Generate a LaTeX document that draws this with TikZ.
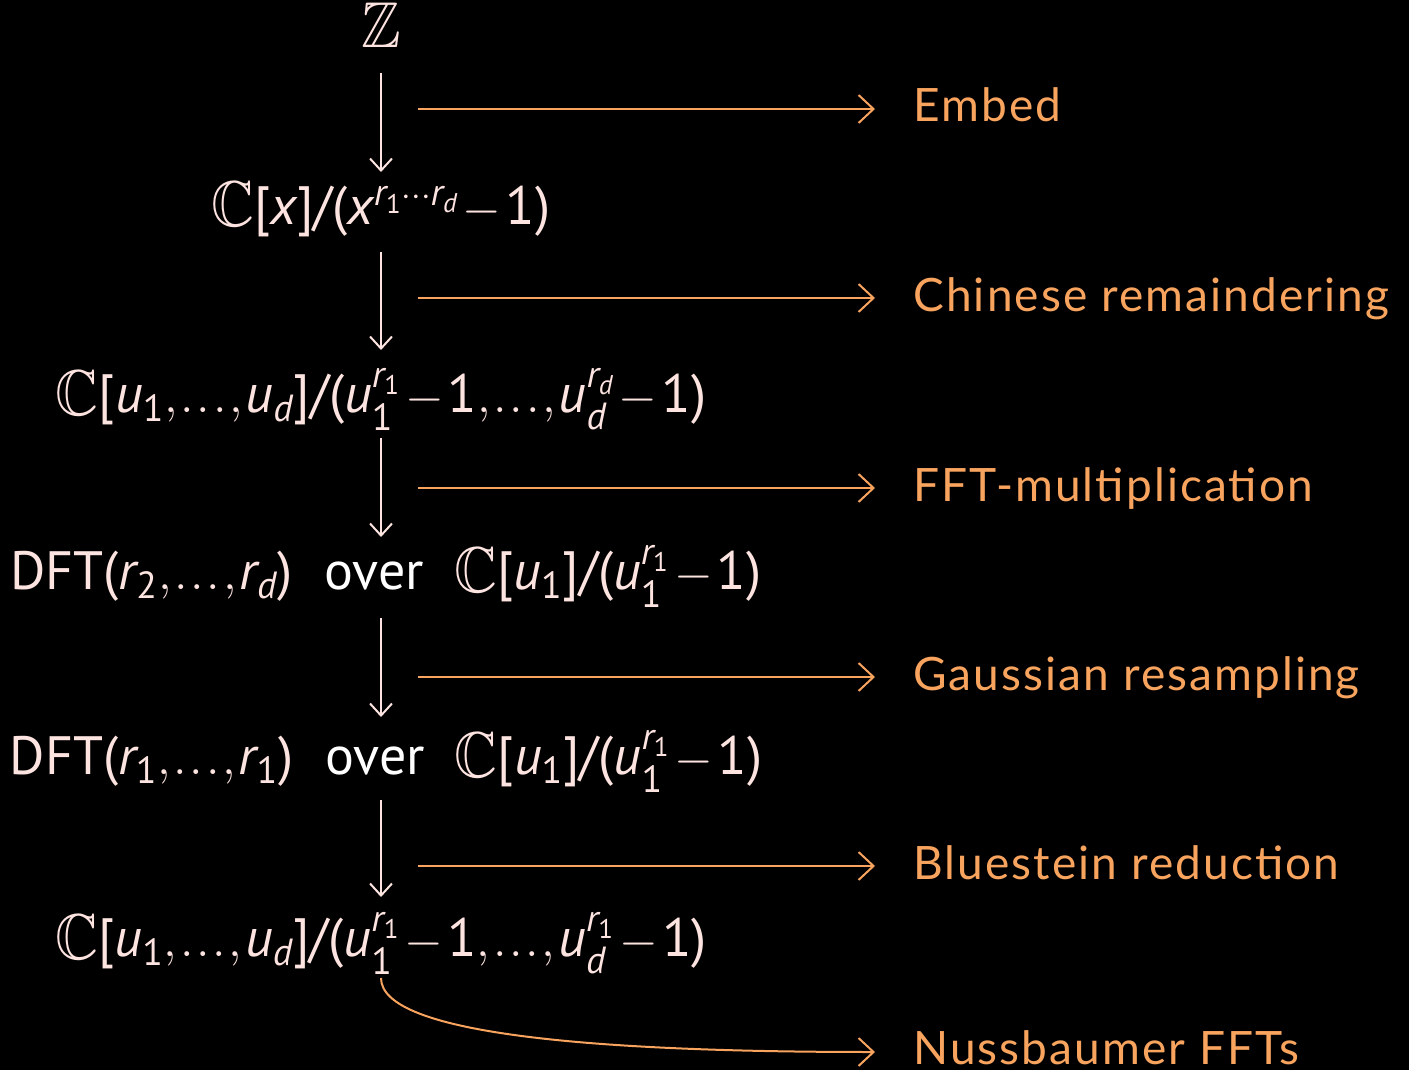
\documentclass[tikz,border=0pt]{standalone}
\usepackage{amssymb}
\usepackage{graphicx}
\usepackage{mathspec}
\setmainfont{PT Sans}
\setmathsfont(Digits,Latin){PT Sans}
\newfontfamily\labelfont[LetterSpace=4.5]{Lato}
\usetikzlibrary{arrows.meta,calc}
\definecolor{pinkc}{HTML}{FDE4E0}
\definecolor{orangec}{HTML}{F8A45E}
\newcommand\BBl[1]{\raisebox{-1.5pt}{\scalebox{1.1}[1.2]{$\mathbb{#1}$}}}
\newcommand\gapw{\hspace{16pt}}
\newcommand\mlp{\mathopen{\mbox{(}}}
\newcommand\mrp{\mathclose{\mbox{)}}}
\newcommand\mlb{\mathopen{\mbox{[}}}
\newcommand\mrb{\mathclose{\mbox{]}}}
\newcommand\mslsh{\mathord{\mbox{/}}}
\newcommand\tightmath{\medmuskip=1.5mu\relax\thinmuskip=1mu\relax}
\tikzset{
  rowtext/.style={text=pinkc, font=\fontsize{27}{32}\selectfont, execute at begin node=\tightmath, inner sep=0pt, anchor=base},
  labtext/.style={text=orangec, font=\labelfont\fontsize{23}{27}\selectfont, inner sep=0pt, anchor=base west},
  vertarrow/.style={draw=pinkc, line width=1pt, -{Straight Barb[length=6pt,width=11pt]}},
  horizarrow/.style={draw=orangec, line width=1pt, -{Straight Barb[length=7.5pt,width=14pt]}, shorten >=19pt}
}
\begin{document}
\begin{tikzpicture}[x=0.5pt,y=-0.5pt]
\fill[black] (0,0) rectangle (1409,1070);
\useasboundingbox (0,0) rectangle (1409,1070);
% main column
\node[rowtext] (z) at (381,45) {\BBl{Z}};
\node[rowtext] (n2) at (381,224) {\BBl{C}$\mlb x\mrb\mslsh\mlp x^{r_1\cdots r_d}-1\mrp$};
\node[rowtext] (n3) at (381,412) {\BBl{C}$\mlb u_1,\dots,u_d\mrb\mslsh\mlp u_1^{r_1}-1,\dots,u_d^{r_d}-1\mrp$};
\node[rowtext] (n4) at (386,589) {DFT$\mlp r_2,\dots,r_d\mrp$\gapw\textcolor{white}{over}\hspace{15pt}\BBl{C}$\mlb u_1\mrb\mslsh\mlp u_1^{r_1}-1\mrp$};
\node[rowtext] (n5) at (386,774) {DFT$\mlp r_1,\dots,r_1\mrp$\gapw\textcolor{white}{over}\hspace{15pt}\BBl{C}$\mlb u_1\mrb\mslsh\mlp u_1^{r_1}-1\mrp$};
\node[rowtext] (n6) at (381,956) {\BBl{C}$\mlb u_1,\dots,u_d\mrb\mslsh\mlp u_1^{r_1}-1,\dots,u_d^{r_1}-1\mrp$};
% vertical arrows (all on the column of z)
\draw[vertarrow] ($(z.base)+(0,28)$) -- ($(z.base |- n2.base)+(0,-52)$);
\draw[vertarrow] ($(z.base |- n2.base)+(0,28)$) -- ($(z.base |- n3.base)+(0,-62)$);
\draw[vertarrow] ($(z.base |- n3.base)+(0,26)$) -- ($(z.base |- n4.base)+(0,-52)$);
\draw[vertarrow] ($(z.base |- n4.base)+(0,29)$) -- ($(z.base |- n5.base)+(0,-57)$);
\draw[vertarrow] ($(z.base |- n5.base)+(0,26)$) -- ($(z.base |- n6.base)+(0,-59)$);
% labels
\node[labtext] (l1) at (913,122) {Embed};
\node[labtext] (l2) at (913,311) {Chinese remaindering};
\node[labtext] (l3) at (913,501) {FFT-multiplication};
\node[labtext] (l4) at (913,690) {Gaussian resampling};
\node[labtext] (l5) at (913,879) {Bluestein reduction};
\node[labtext] (l6) at (913,1064) {Nussbaumer FFTs};
% horizontal arrows
\coordinate (h1) at (418,109);
\coordinate (h2) at (418,298);
\coordinate (h3) at (418,488);
\coordinate (h4) at (418,677);
\coordinate (h5) at (418,866);
\coordinate (h6) at (381,1052);
\coordinate (c6) at (381,978);
\draw[horizarrow] (h1) -- (h1 -| l1.west);
\draw[horizarrow] (h2) -- (h2 -| l2.west);
\draw[horizarrow] (h3) -- (h3 -| l3.west);
\draw[horizarrow] (h4) -- (h4 -| l4.west);
\draw[horizarrow] (h5) -- (h5 -| l5.west);
\draw[horizarrow] (c6) .. controls (381,1035) and (600,1052) .. (h6 -| l6.west);
\end{tikzpicture}
\end{document}
